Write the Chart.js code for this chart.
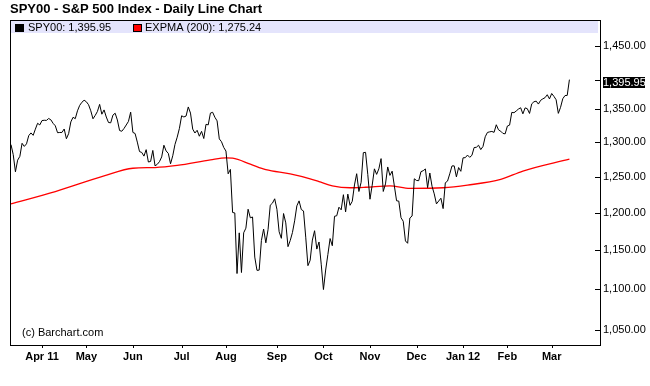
<!DOCTYPE html>
<html>
<head>
<meta charset="utf-8">
<script src="https://cdn.jsdelivr.net/npm/chart.js@4/dist/chart.umd.min.js"></script>
<style>
  html, body { margin: 0; padding: 0; background: #fff; }
  #chart { display: block; }
</style>
</head>
<body>
<canvas id="chart" width="650" height="386"></canvas>
<script>
// daily closes, 14 Mar 2011 .. 13 Mar 2012
const closes = [
  1296.39, 1281.87, 1256.88, 1273.72, 1279.21, 1298.38, 1293.77, 1297.54, 1309.66, 1313.80, 1310.19, 1319.44, 1328.26, 1325.83,
  1332.41, 1332.87, 1332.63, 1335.54, 1333.51, 1328.17, 1324.46, 1314.16, 1314.41, 1314.52, 1319.68, 1305.14, 1312.62, 1330.36, 1337.38, 1335.25, 1347.24, 1355.66, 1360.48, 1363.61,
  1361.22, 1356.62, 1347.32, 1335.10, 1340.20, 1346.29, 1357.16, 1342.08, 1348.65, 1337.77, 1329.47, 1328.98, 1340.68, 1343.60, 1333.27, 1317.37, 1316.28, 1320.47, 1325.69, 1331.10, 1345.20,
  1314.55, 1312.94, 1300.16, 1286.17, 1284.94, 1279.56, 1289.00, 1270.98, 1271.83, 1287.87, 1265.42, 1267.64, 1271.50, 1278.36, 1295.52, 1287.14, 1283.50, 1268.45, 1280.10, 1296.67, 1307.41, 1320.64,
  1339.67, 1337.88, 1339.22, 1353.22, 1343.80, 1319.49, 1313.64, 1317.72, 1308.87, 1316.14, 1305.44, 1326.73, 1325.84, 1343.80, 1345.02, 1337.43, 1331.94, 1304.89, 1300.67, 1292.28,
  1286.94, 1254.05, 1260.34, 1200.07, 1199.38, 1119.46, 1172.53, 1120.76, 1172.64, 1178.81, 1204.49, 1192.76, 1193.89, 1140.65, 1123.53, 1123.82, 1162.35, 1177.60, 1159.27, 1176.80, 1210.08, 1212.92, 1218.89,
  1204.42, 1173.97, 1165.24, 1198.62, 1185.90, 1154.23, 1162.27, 1172.87, 1188.68, 1209.11, 1216.01, 1204.09, 1202.09, 1166.76, 1129.56, 1136.43, 1162.95, 1175.38, 1151.06, 1160.40, 1131.42,
  1099.23, 1123.95, 1144.03, 1164.97, 1155.46, 1194.89, 1195.54, 1207.25, 1203.66, 1224.58, 1200.86, 1225.38, 1209.88, 1215.39, 1238.25, 1254.19, 1229.05, 1242.00, 1284.59, 1285.09, 1253.30,
  1218.28, 1237.90, 1261.15, 1253.23, 1261.12, 1275.92, 1229.10, 1239.69, 1263.85, 1251.78, 1257.81, 1236.91, 1216.13, 1215.65, 1192.98, 1188.04, 1161.79, 1158.67, 1192.55, 1195.19, 1246.96,
  1244.58, 1244.28, 1257.08, 1258.47, 1261.01, 1234.35, 1255.19, 1236.47, 1225.73, 1211.82, 1215.75, 1219.66, 1205.35, 1241.30, 1243.72, 1254.00, 1265.33, 1265.43, 1249.64, 1263.02, 1257.60,
  1277.06, 1277.30, 1281.06, 1277.81, 1280.70, 1292.08, 1292.48, 1295.50, 1289.09, 1293.67, 1308.04, 1314.50, 1315.38, 1316.00, 1314.65, 1326.06, 1318.43, 1316.33, 1313.01, 1312.41,
  1324.09, 1325.54, 1344.90, 1344.33, 1347.05, 1349.96, 1351.95, 1342.64, 1351.77, 1350.50, 1343.23, 1358.04, 1361.23, 1362.21, 1357.66, 1363.46, 1365.74, 1367.59, 1372.18, 1365.68,
  1374.09, 1369.63, 1364.33, 1343.36, 1352.63, 1365.91, 1370.87, 1371.09, 1395.95
]

// 200 day exponential average
const emaIdx  = [0, 20, 42, 55, 65, 75, 90, 97, 100, 108, 115, 126, 135, 139, 145, 153, 160, 171, 180, 195, 206, 221, 231, 252]
const emaVals = [1212, 1229, 1251, 1262, 1263, 1266, 1274, 1277, 1276.5, 1268, 1260, 1254, 1247, 1243, 1237, 1234.3, 1235, 1237, 1233.4, 1234.3, 1238, 1246, 1258, 1275.24]

// first trading day of each month
const monthIdx = [14, 34, 55, 77, 97, 120, 141, 162, 183, 204, 224, 244]
const monthLabels = ["Apr 11", "May", "Jun", "Jul", "Aug", "Sep", "Oct", "Nov", "Dec", "Jan 12", "Feb", "Mar"]

const yTicks = [1050, 1100, 1150, 1200, 1250, 1300, 1350, 1400, 1450]

const lastClose = closes[closes.length - 1]
const lastEma = emaVals[emaVals.length - 1]

const fmt = v => v.toLocaleString("en-US", { minimumFractionDigits: 2, maximumFractionDigits: 2 })
const FONT = "'Liberation Sans', Arial, sans-serif"

const decorations = {
  id: "decorations",
  beforeDatasetsDraw(chart) {
    const { ctx, chartArea: a } = chart
    ctx.save()
    ctx.fillStyle = "#e4e4fc"
    ctx.fillRect(a.left + 1, a.top + 1, a.right - a.left - 3, 12)
    ctx.restore()
  },
  afterDraw(chart) {
    const { ctx, chartArea: a, scales } = chart
    ctx.save()

    // frame
    ctx.strokeStyle = "#000"
    ctx.lineWidth = 1
    ctx.strokeRect(a.left + 0.5, a.top + 0.5, a.right - a.left, a.bottom - a.top)

    // y ticks, drawn inside the frame
    ctx.beginPath()
    yTicks.forEach(v => {
      if (v === 1400) return
      const y = Math.round(scales.y.getPixelForValue(v)) + 0.5
      ctx.moveTo(a.right - 5, y)
      ctx.lineTo(a.right, y)
    })
    const yl = Math.round(scales.y.getPixelForValue(lastClose)) + 0.5
    ctx.moveTo(a.right - 5, yl)
    ctx.lineTo(a.right, yl)
    // x ticks
    monthIdx.forEach(i => {
      const x = Math.round(scales.x.getPixelForValue(i)) + 0.5
      ctx.moveTo(x, a.bottom)
      ctx.lineTo(x, a.bottom + 3)
    })
    ctx.stroke()

    // last value marker on the axis
    ctx.fillStyle = "#000"
    ctx.fillRect(a.right + 3, yl - 3.5, 42, 11)
    ctx.fillStyle = "#fff"
    ctx.font = "11px " + FONT
    ctx.textBaseline = "middle"
    ctx.fillText(fmt(lastClose), a.right + 3, yl + 2)

    // title
    ctx.fillStyle = "#000"
    ctx.font = "bold 13px " + FONT
    ctx.fillText("SPY00 - S&P 500 Index - Daily Line Chart", 10, 9)

    // legend strip
    ctx.font = "11px " + FONT
    ctx.fillRect(15, 24, 9, 8)
    ctx.fillText("SPY00: " + fmt(lastClose), 28, 28)
    ctx.fillStyle = "#ff0000"
    ctx.fillRect(133, 24, 9, 8)
    ctx.strokeStyle = "#000"
    ctx.strokeRect(133.5, 24.5, 8, 7)
    ctx.fillStyle = "#000"
    ctx.fillText("EXPMA (200): " + fmt(lastEma), 145, 28)

    ctx.fillText("(c) Barchart.com", 22, 333)
    ctx.restore()
  }
}

new Chart(document.getElementById("chart"), {
  type: "line",
  data: {
    datasets: [
      {
        label: "SPY00",
        data: closes.map((v, i) => ({ x: i, y: v })),
        borderColor: "#000",
        borderWidth: 1,
        pointRadius: 0,
        tension: 0
      },
      {
        label: "EXPMA (200)",
        data: emaIdx.map((x, i) => ({ x: x, y: emaVals[i] })),
        borderColor: "#ff0000",
        borderWidth: 1.3,
        pointRadius: 0,
        cubicInterpolationMode: "monotone"
      }
    ]
  },
  options: {
    responsive: false,
    animation: false,
    devicePixelRatio: 1,
    layout: { padding: { left: 10, top: 20, right: 0, bottom: 0 } },
    plugins: { legend: { display: false }, tooltip: { enabled: false } },
    scales: {
      x: {
        type: "linear",
        min: -0.45,
        max: 265.8,
        grid: { display: false, drawTicks: false },
        border: { display: false },
        afterBuildTicks: s => { s.ticks = monthIdx.map(v => ({ value: v })) },
        afterFit: s => { s.height = 41 },
        ticks: {
          autoSkip: false,
          maxRotation: 0,
          padding: 5,
          color: "#000",
          font: { family: FONT, size: 11, weight: "bold" },
          callback: (v, i) => monthLabels[i]
        }
      },
      y: {
        type: "logarithmic",
        position: "right",
        min: 1032,
        max: 1494,
        grid: { display: false, drawTicks: false },
        border: { display: false },
        afterBuildTicks: s => { s.ticks = yTicks.map(v => ({ value: v })) },
        afterFit: s => { s.width = 50 },
        ticks: {
          padding: 3,
          color: "#000",
          font: { family: FONT, size: 11 },
          callback: v => v === 1400 ? "" : fmt(v)
        }
      }
    }
  },
  plugins: [decorations]
})
</script>
</body>
</html>
